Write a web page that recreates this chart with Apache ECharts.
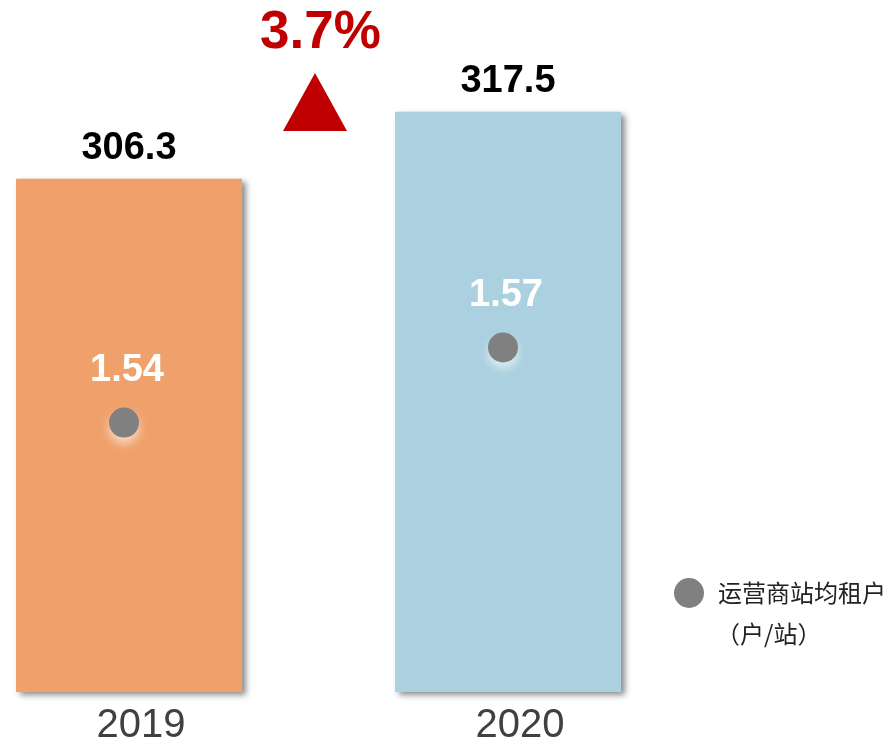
<!DOCTYPE html>
<html>
<head>
<meta charset="utf-8">
<script src="https://cdn.jsdelivr.net/npm/echarts@6/dist/echarts.min.js"></script>
<style>
  html, body { margin: 0; padding: 0; background: #fff; }
  #chart { width: 894px; height: 746px; }
</style>
</head>
<body>
<div id="chart"></div>
<script>
// data
const years = ['2019', '2020']
const siteCounts = [306.3, 317.5]        // bar values
const tenantRatio = [1.54, 1.57]         // 运营商站均租户（户/站）
const barColors = ['#F0A16B', '#ABD0DF']

const growth = ((siteCounts[1] - siteCounts[0]) / siteCounts[0] * 100).toFixed(1) + '%'

const fontEn = '"Liberation Sans", Arial, sans-serif'
const fontCn = '"Noto Sans CJK SC", "Liberation Sans", sans-serif'

const chart = echarts.init(document.getElementById('chart'))

const option = {
  animation: false,
  grid: [
    // plot area: x is a value axis holding the year index
    { left: 0, right: 0, top: 37, bottom: 54 },
    // labels only: category points line up with index 0 and 1
    { left: 129, right: 386, top: 37, bottom: 54 }
  ],
  legend: {
    data: ['运营商站均租户'],
    left: 669,
    top: 573,
    icon: 'circle',
    itemWidth: 30,
    itemHeight: 30,
    textStyle: { fontFamily: fontCn, fontSize: 24, color: '#222', padding: [0, 0, 6, 9] }
  },
  xAxis: [
    { type: 'value', gridIndex: 0, min: -0.3404, max: 2.0185, show: false },
    {
      type: 'category',
      gridIndex: 1,
      data: years,
      boundaryGap: false,
      axisLine: { show: false },
      axisTick: { show: false },
      axisLabel: {
        fontFamily: fontEn,
        fontSize: 40,
        color: '#404040',
        margin: 14,
        padding: [0, 0, 0, 24]
      }
    }
  ],
  yAxis: [
    { type: 'value', gridIndex: 0, min: 220.5, max: 330, show: false },
    { type: 'value', gridIndex: 0, min: 1.4324, max: 1.694, show: false },
    { type: 'value', gridIndex: 1, show: false }
  ],
  series: [
    {
      name: '站址数',
      type: 'bar',
      barWidth: 226,
      data: siteCounts.map((v, i) => ({ value: [i, v], itemStyle: { color: barColors[i] } })),
      itemStyle: {
        shadowColor: 'rgba(0,0,0,0.45)',
        shadowBlur: 6,
        shadowOffsetX: 4,
        shadowOffsetY: 3
      },
      label: {
        show: true,
        position: 'top',
        distance: 11,
        fontFamily: fontEn,
        fontSize: 38,
        fontWeight: 'bold',
        color: '#000',
        formatter: p => p.value[1]
      }
    },
    {
      name: '运营商站均租户',
      type: 'scatter',
      yAxisIndex: 1,
      symbolSize: 30,
      symbolOffset: [-5, 0],
      data: tenantRatio.map((v, i) => [i, v]),
      itemStyle: {
        color: '#808080',
        opacity: 1,
        shadowColor: 'rgba(255,255,255,0.6)',
        shadowBlur: 10,
        shadowOffsetY: 6
      },
      label: {
        show: true,
        position: 'top',
        distance: 18,
        offset: [3, 0],
        fontFamily: fontEn,
        fontSize: 38,
        fontWeight: 'bold',
        color: '#fff',
        formatter: p => p.value[1].toFixed(2)
      }
    }
  ],
  graphic: [
    {
      type: 'text',
      left: 260,
      top: 7,
      style: {
        text: growth,
        fontFamily: fontEn,
        fontSize: 53,
        fontWeight: 'bold',
        fill: '#C00000'
      }
    },
    {
      type: 'polygon',
      shape: { points: [[315, 73], [347, 131], [283, 131]] },
      style: { fill: '#C00000' }
    },
    {
      type: 'text',
      left: 716,
      top: 622,
      style: {
        text: '（户/站）',
        fontFamily: fontCn,
        fontSize: 24,
        fill: '#222'
      }
    }
  ]
}

chart.setOption(option)
</script>
</body>
</html>
